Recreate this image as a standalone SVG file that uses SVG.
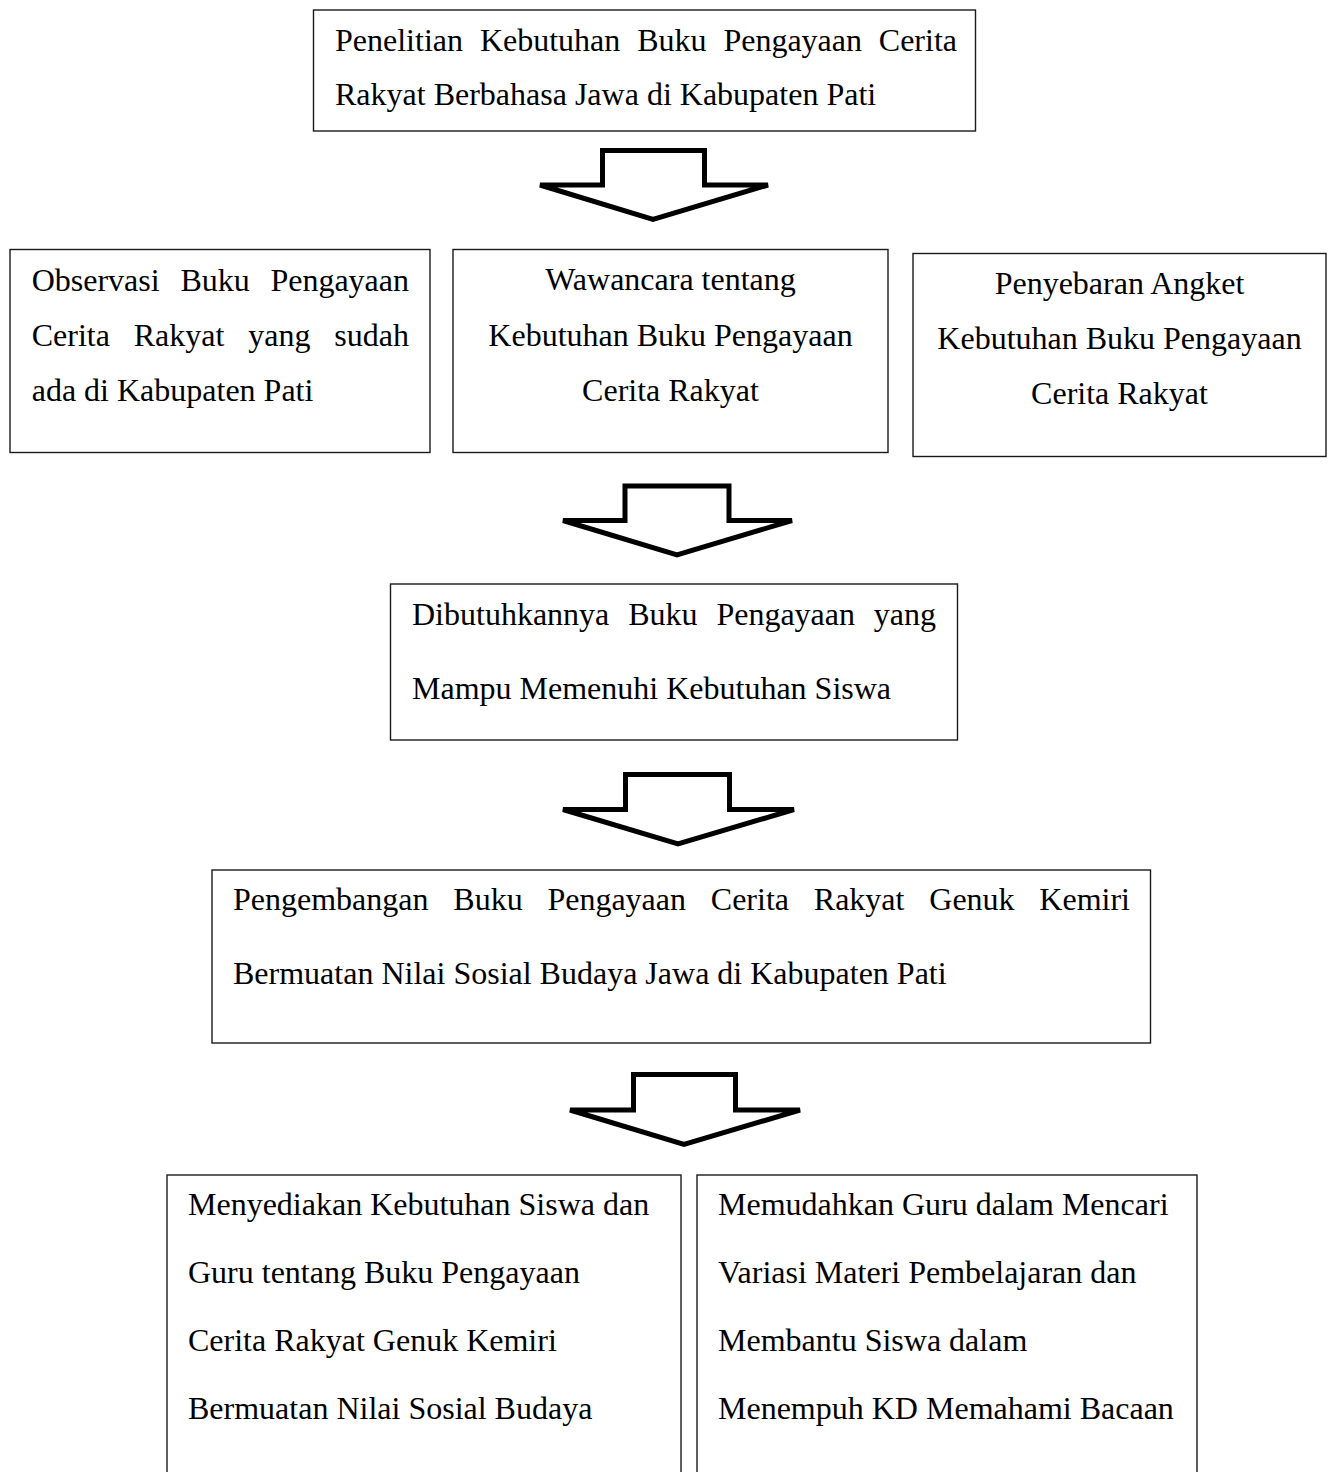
<svg xmlns="http://www.w3.org/2000/svg" width="1331" height="1472" viewBox="0 0 1331 1472">
<style>
.box{fill:#fff;stroke:#1a1a1a;stroke-width:1.4}
.t{font-family:"Liberation Serif","Times New Roman",serif;font-size:32px;fill:#000}
.c{text-anchor:middle}
.e{text-anchor:end}
.arr{fill:#fff;stroke:#000;stroke-width:5;stroke-linejoin:miter;stroke-miterlimit:4}
</style>
<rect width="1331" height="1472" fill="#fff"/>
<g id="connectors">
<path class="arr" d="M602.5,150.5 H704.5 V185 H768 L653,219.5 L540,185 H602.5 Z"/>
<path class="arr" d="M625,486 H729 V520.5 H792 L677,555 L563,520.5 H625 Z"/>
<path class="arr" d="M625.5,774.5 H729.5 V809.5 H794 L678,844 L563,809.5 H625.5 Z"/>
<path class="arr" d="M633.5,1074.5 H735.5 V1110 H800 L684,1144.5 L570,1110 H633.5 Z"/>
</g>
<g id="node-penelitian">
<rect class="box" x="313.5" y="10" width="662" height="121"/>
<text class="t" y="51"><tspan x="335">Penelitian</tspan><tspan x="479.9">Kebutuhan</tspan><tspan x="637.2">Buku</tspan><tspan x="723.4">Pengayaan</tspan></text>
<text class="t e" x="957" y="51">Cerita</text>
<text class="t" x="335" y="105">Rakyat Berbahasa Jawa di Kabupaten Pati</text>
</g>
<g id="node-observasi">
<rect class="box" x="10" y="249.5" width="420" height="203"/>
<text class="t" y="291"><tspan x="31.7">Observasi</tspan><tspan x="180.4">Buku</tspan></text>
<text class="t e" x="409" y="291">Pengayaan</text>
<text class="t" y="346"><tspan x="31.7">Cerita</tspan><tspan x="133.7">Rakyat</tspan><tspan x="248.2">yang</tspan></text>
<text class="t e" x="409" y="346">sudah</text>
<text class="t" x="31.7" y="401">ada di Kabupaten Pati</text>
</g>
<g id="node-wawancara">
<rect class="box" x="453" y="249.5" width="435" height="203"/>
<text class="t c" x="670.5" y="290">Wawancara tentang</text>
<text class="t c" x="670.5" y="346">Kebutuhan Buku Pengayaan</text>
<text class="t c" x="670.5" y="401">Cerita Rakyat</text>
</g>
<g id="node-angket">
<rect class="box" x="913" y="253.5" width="413" height="203"/>
<text class="t c" x="1119.5" y="294">Penyebaran Angket</text>
<text class="t c" x="1119.5" y="349">Kebutuhan Buku Pengayaan</text>
<text class="t c" x="1119.5" y="404">Cerita Rakyat</text>
</g>
<g id="node-dibutuhkan">
<rect class="box" x="390.5" y="584" width="567" height="156"/>
<text class="t" y="625"><tspan x="412">Dibutuhkannya</tspan><tspan x="628.2">Buku</tspan><tspan x="716.4">Pengayaan</tspan></text>
<text class="t e" x="936" y="625">yang</text>
<text class="t" x="412" y="699">Mampu Memenuhi Kebutuhan Siswa</text>
</g>
<g id="node-pengembangan">
<rect class="box" x="212" y="870" width="938.5" height="173"/>
<text class="t" y="910"><tspan x="233">Pengembangan</tspan><tspan x="453.3">Buku</tspan><tspan x="547.4">Pengayaan</tspan><tspan x="710.8">Cerita</tspan><tspan x="813.8">Rakyat</tspan><tspan x="929.3">Genuk</tspan></text>
<text class="t e" x="1130" y="910">Kemiri</text>
<text class="t" x="233" y="984">Bermuatan Nilai Sosial Budaya Jawa di Kabupaten Pati</text>
</g>
<g id="node-menyediakan">
<rect class="box" x="167" y="1175" width="514" height="320"/>
<text class="t" x="188" y="1215">Menyediakan Kebutuhan Siswa dan</text>
<text class="t" x="188" y="1283">Guru tentang Buku Pengayaan</text>
<text class="t" x="188" y="1351">Cerita Rakyat Genuk Kemiri</text>
<text class="t" x="188" y="1419">Bermuatan Nilai Sosial Budaya</text>
</g>
<g id="node-memudahkan">
<rect class="box" x="697" y="1175" width="500" height="320"/>
<text class="t" x="718" y="1215">Memudahkan Guru dalam Mencari</text>
<text class="t" x="718" y="1283">Variasi Materi Pembelajaran dan</text>
<text class="t" x="718" y="1351">Membantu Siswa dalam</text>
<text class="t" x="718" y="1419">Menempuh KD Memahami Bacaan</text>
</g>
</svg>
